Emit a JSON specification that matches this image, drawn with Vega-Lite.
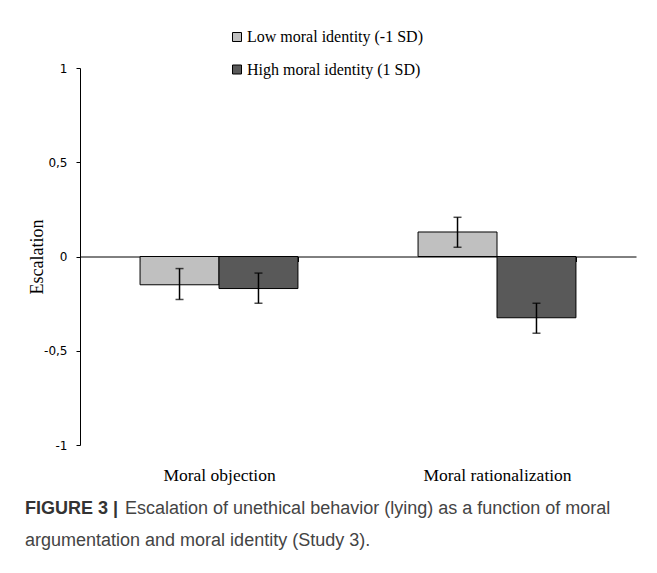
{
  "$schema": "https://vega.github.io/schema/vega-lite/v6.json",
  "width": 556,
  "height": 377,
  "autosize": "none",
  "padding": {"left": 80, "top": 68, "right": 21, "bottom": 128},
  "background": "white",
  "config": {"view": {"stroke": null}},
  "title": {
    "text": "FIGURE 3 |",
    "subtitle": ["\u200b\u00a0\u00a0\u00a0\u00a0\u00a0\u00a0\u00a0\u00a0\u00a0\u00a0\u00a0\u00a0\u00a0\u00a0\u00a0\u00a0\u00a0\u00a0\u00a0\u00a0Escalation of unethical behavior (lying) as a function of moral", "argumentation and moral identity (Study 3)."],
    "orient": "bottom",
    "anchor": "start",
    "frame": "group",
    "dx": -55,
    "offset": 16,
    "font": "Liberation Sans",
    "fontSize": 18,
    "fontWeight": "bold",
    "color": "#333333",
    "subtitleFont": "Liberation Sans",
    "subtitleFontSize": 18,
    "subtitleColor": "#444444",
    "subtitleLineHeight": 32,
    "subtitlePadding": -18
  },
  "data": {
    "values": [
      {"arg": "Moral objection", "identity": "Low moral identity (-1 SD)", "esc": -0.15, "lo": -0.228, "hi": -0.064},
      {"arg": "Moral objection", "identity": "High moral identity (1 SD)", "esc": -0.17, "lo": -0.248, "hi": -0.088},
      {"arg": "Moral rationalization", "identity": "Low moral identity (-1 SD)", "esc": 0.13, "lo": 0.049, "hi": 0.208},
      {"arg": "Moral rationalization", "identity": "High moral identity (1 SD)", "esc": -0.325, "lo": -0.407, "hi": -0.248}
    ]
  },
  "encoding": {
    "x": {
      "field": "arg",
      "type": "nominal",
      "sort": ["Moral objection", "Moral rationalization"],
      "scale": {"paddingInner": 0.432, "paddingOuter": 0.216},
      "axis": {
        "title": null,
        "orient": "bottom",
        "offset": -188.5,
        "tickBand": "extent",
        "tickSize": 5,
        "tickColor": "black",
        "domainColor": "black",
        "labelAngle": 0,
        "labelPadding": 205,
        "labelFont": "Liberation Serif",
        "labelFontSize": 17.5,
        "labelColor": "black",
        "labelLimit": 0
      }
    },
    "xOffset": {"field": "identity", "type": "nominal", "sort": ["Low moral identity (-1 SD)", "High moral identity (1 SD)"]}
  },
  "layer": [
    {
      "mark": {"type": "bar", "stroke": "black", "strokeWidth": 1},
      "encoding": {
        "y": {
          "field": "esc",
          "type": "quantitative",
          "scale": {"domain": [-1, 1]},
          "axis": {
            "title": "Escalation",
            "values": [-1, -0.5, 0, 0.5, 1],
            "format": ".1~f",
            "labelExpr": "replace(replace(datum.label, '.', ','), '\u2212', '-')",
            "grid": false,
            "domainColor": "black",
            "tickColor": "black",
            "tickSize": 4,
            "labelPadding": 9,
            "labelFont": "DejaVu Sans",
            "labelFontSize": 12,
            "labelColor": "black",
            "titleFont": "Liberation Serif",
            "titleFontSize": 18,
            "titleFontWeight": "normal",
            "titleColor": "black",
            "titlePadding": -3
          }
        },
        "color": {
          "field": "identity",
          "type": "nominal",
          "sort": ["Low moral identity (-1 SD)", "High moral identity (1 SD)"],
          "scale": {"range": ["#c0c0c0", "#595959"]},
          "legend": {
            "orient": "none",
            "legendX": 149,
            "legendY": -39,
            "title": null,
            "symbolType": "square",
            "symbolSize": 81,
            "symbolStrokeColor": "black",
            "symbolStrokeWidth": 1,
            "symbolOpacity": 1,
            "labelFont": "Liberation Serif",
            "labelFontSize": 16,
            "labelColor": "black",
            "labelOffset": 2,
            "labelLimit": 0,
            "rowPadding": 16.5
          }
        }
      }
    },
    {
      "mark": {"type": "rule", "color": "black", "strokeWidth": 1.5},
      "encoding": {
        "y": {"field": "lo", "type": "quantitative", "title": "Escalation"},
        "y2": {"field": "hi"}
      }
    },
    {
      "mark": {"type": "tick", "color": "black", "size": 8, "thickness": 1.5},
      "encoding": {
        "y": {"field": "lo", "type": "quantitative", "title": "Escalation"}
      }
    },
    {
      "mark": {"type": "tick", "color": "black", "size": 8, "thickness": 1.5},
      "encoding": {
        "y": {"field": "hi", "type": "quantitative", "title": "Escalation"}
      }
    }
  ]
}
